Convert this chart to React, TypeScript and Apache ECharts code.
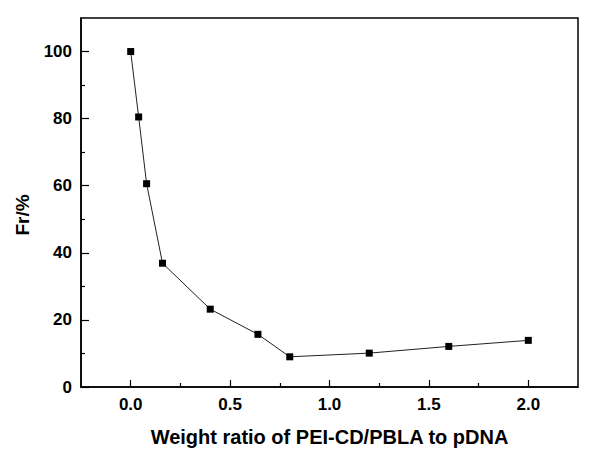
import React, { useEffect, useRef } from "react";
import * as echarts from "echarts";

const xValues = [0, 0.04, 0.08, 0.16, 0.4, 0.64, 0.8, 1.2, 1.6, 2.0];
const frValues = [100, 80.5, 60.6, 36.9, 23.2, 15.7, 9.0, 10.1, 12.1, 13.9];
const xMajorTicks = [0, 0.5, 1, 1.5, 2];
const xMinorTicks = [0.25, 0.75, 1.25, 1.75];
const yMajorTicks = [0, 20, 40, 60, 80, 100];
const yMinorTicks = [10, 30, 50, 70, 90];
const xTitle = "Weight ratio of PEI-CD/PBLA to pDNA";
const yTitle = "Fr/%";

export default function App() {
  const ref = useRef<HTMLDivElement>(null);
  useEffect(() => {
    if (!ref.current) return;
    const chart = echarts.init(ref.current, null, { renderer: "svg" });
    const font = "'Liberation Sans', Arial, Helvetica, sans-serif";
    const labelStyle = { color: "#000", fontSize: 17, fontWeight: "bold" as const, fontFamily: font };
    chart.setOption({
      animation: false,
      backgroundColor: "#fff",
      grid: {
        left: 81,
        top: 18,
        right: 22,
        bottom: 76,
        show: true,
        borderColor: "#000",
        borderWidth: 1.5,
        backgroundColor: "transparent",
      },
      xAxis: [
        {
          type: "value",
          min: -0.25,
          max: 2.25,
          position: "bottom",
          name: xTitle,
          nameLocation: "middle",
          nameGap: 40,
          nameTextStyle: { color: "#000", fontSize: 20, fontWeight: "bold", fontFamily: font },
          axisLine: { show: true, onZero: false, lineStyle: { color: "#000", width: 1.5 } },
          axisTick: { show: true, inside: true, length: 7, customValues: xMajorTicks, lineStyle: { color: "#000", width: 1.2 } },
          axisLabel: {
            ...labelStyle,
            margin: 9,
            customValues: xMajorTicks,
            formatter: (v: number) => v.toFixed(1),
          },
          splitLine: { show: false },
        },
        {
          type: "value",
          min: -0.25,
          max: 2.25,
          position: "bottom",
          axisLine: { show: false, onZero: false },
          axisTick: { show: true, inside: true, length: 4, customValues: xMinorTicks, lineStyle: { color: "#000", width: 1.2 } },
          axisLabel: { show: false },
          splitLine: { show: false },
        },
      ],
      yAxis: [
        {
          type: "value",
          min: 0,
          max: 110,
          position: "left",
          axisLine: { show: true, onZero: false, lineStyle: { color: "#000", width: 1.5 } },
          axisTick: { show: true, inside: true, length: 8, customValues: yMajorTicks, lineStyle: { color: "#000", width: 1.2 } },
          axisLabel: { ...labelStyle, margin: 9, customValues: yMajorTicks },
          splitLine: { show: false },
        },
        {
          type: "value",
          min: 0,
          max: 110,
          position: "left",
          axisLine: { show: false, onZero: false },
          axisTick: { show: true, inside: true, length: 4, customValues: yMinorTicks, lineStyle: { color: "#000", width: 1.2 } },
          axisLabel: { show: false },
          splitLine: { show: false },
        },
      ],
      graphic: [
        {
          type: "text",
          x: 22,
          y: 215,
          rotation: Math.PI / 2,
          style: {
            text: yTitle,
            fill: "#000",
            font: `bold 19px ${font}`,
            align: "center",
            verticalAlign: "middle",
          },
        },
      ],
      series: [
        {
          type: "line",
          xAxisIndex: 0,
          yAxisIndex: 0,
          data: xValues.map((x, i) => [x, frValues[i]]),
          symbol: "rect",
          symbolSize: 7,
          itemStyle: { color: "#000" },
          lineStyle: { color: "#222", width: 1 },
        },
      ],
    });
    return () => chart.dispose();
  }, []);
  return (
    <div
      ref={ref}
      style={{ position: "absolute", left: 0, top: 0, width: 600, height: 463 }}
    />
  );
}
